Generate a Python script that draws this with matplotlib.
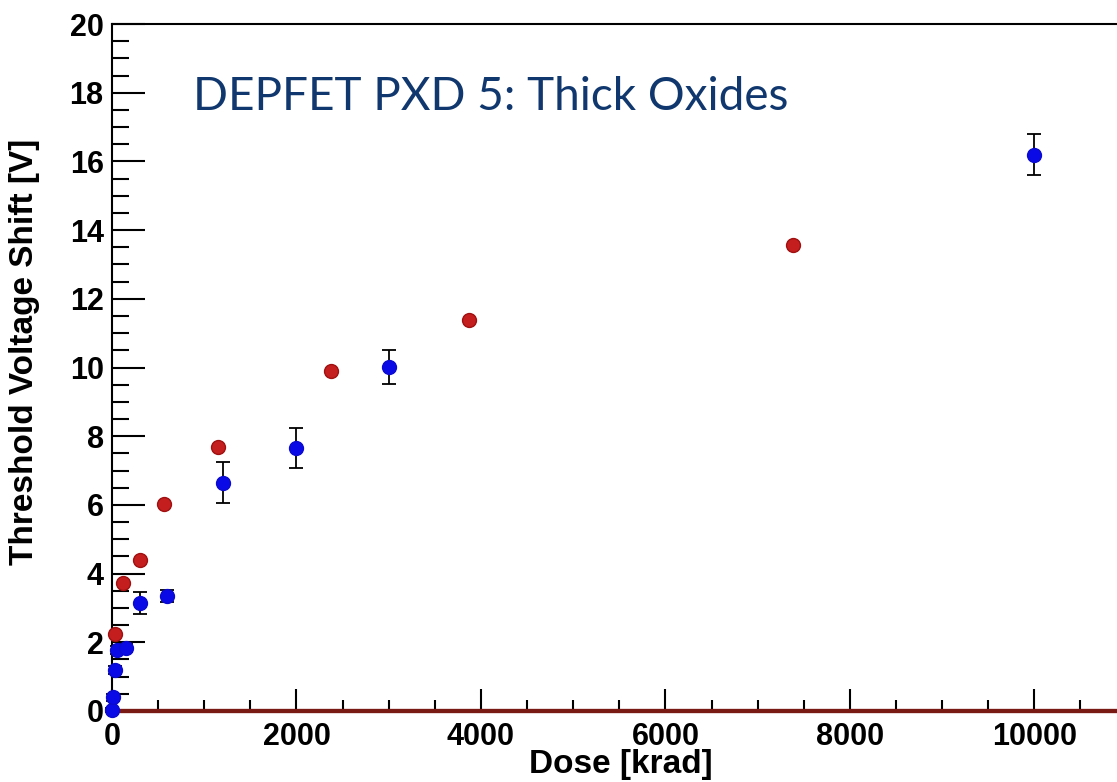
import numpy as np
import matplotlib
matplotlib.use("Agg")
import matplotlib.pyplot as plt
from matplotlib.ticker import MultipleLocator

# red series (no visible error bars)
red_dose = [30, 120, 300, 560, 1150, 2370, 3870, 7380]
red_shift = [2.25, 3.72, 4.4, 6.03, 7.68, 9.9, 11.38, 13.57]

# blue series with error bars
blue_dose = [0, 10, 30, 50, 150, 300, 600, 1200, 2000, 3000, 10000]
blue_shift = [0.03, 0.4, 1.2, 1.78, 1.83, 3.15, 3.35, 6.65, 7.65, 10.02, 16.2]
blue_err = [0.05, 0.1, 0.12, 0.12, 0.12, 0.32, 0.18, 0.6, 0.58, 0.5, 0.6]

title = "DEPFET PXD 5: Thick Oxides"

plt.rcParams['font.family'] = ['Liberation Sans', 'DejaVu Sans']

fig = plt.figure(figsize=(11.17, 7.82), dpi=100)
ax = fig.add_axes([0.1003, 0.0908, 0.9, 0.8785])

ax.axhline(0, color='#7a1a14', lw=3, zorder=3, clip_on=False)

ax.errorbar(red_dose, red_shift, fmt='o', color='#c41e1e', mec='#a01010',
            ms=10, zorder=4, clip_on=False)
eb = ax.errorbar(blue_dose, blue_shift, yerr=blue_err, fmt='o', color='#0a0ae6',
                 mec='#0a0ad0', ecolor='black', elinewidth=1.3, capsize=5,
                 capthick=1.3, ms=10, zorder=5)
for art in [eb[0], *eb[1], *eb[2]]:
    art.set_clip_on(False)

ax.set_xlim(0, 10900)
ax.set_ylim(0, 20)
ax.xaxis.set_major_locator(MultipleLocator(2000))
ax.xaxis.set_minor_locator(MultipleLocator(500))
ax.yaxis.set_major_locator(MultipleLocator(2))
ax.yaxis.set_minor_locator(MultipleLocator(0.5))

ax.tick_params(axis='both', which='both', direction='in', width=1.5,
               labelsize=22)
ax.tick_params(axis='x', which='major', length=16, pad=8)
ax.tick_params(axis='x', which='minor', length=8)
ax.tick_params(axis='y', which='major', length=24, pad=6)
ax.tick_params(axis='y', which='minor', length=12)
for lab in ax.get_xticklabels() + ax.get_yticklabels():
    lab.set_fontweight('bold')

ax.spines['right'].set_visible(False)
for s in ['left', 'top']:
    ax.spines[s].set_linewidth(1.5)
ax.spines['bottom'].set_color('#7a1a14')
ax.spines['bottom'].set_linewidth(3)

fig.text(0.022, 0.55, "Threshold Voltage Shift [V]", rotation=90,
         fontsize=24, fontweight='bold', ha='center', va='center')
fig.text(0.556, 0.022, "Dose [krad]", fontsize=24, fontweight='bold',
         ha='center', va='center')

fig.text(0.1728, 0.859, title, fontsize=33, color='#10386e',
         family=['Lato', 'DejaVu Sans'], ha='left', va='baseline')

fig.savefig("out.png", dpi=100)
